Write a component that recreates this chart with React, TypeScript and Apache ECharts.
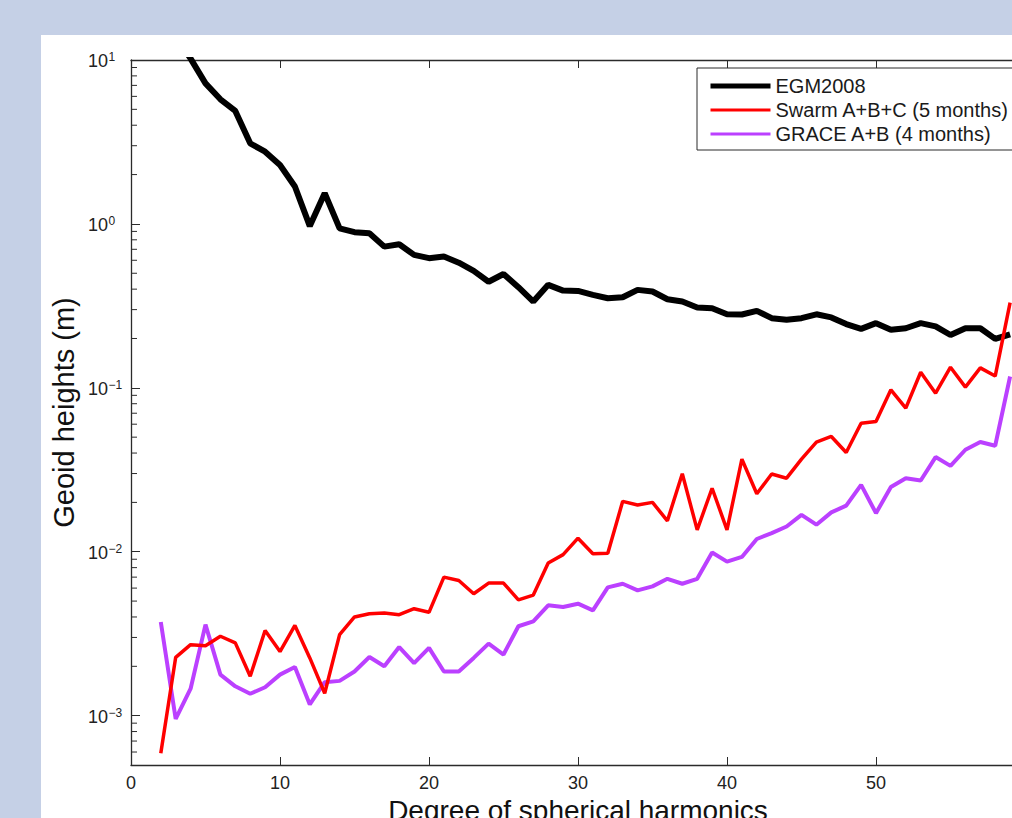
import React, { useEffect, useRef } from "react";
import * as echarts from "echarts";

const degrees = [2, 3, 4, 5, 6, 7, 8, 9, 10, 11, 12, 13, 14, 15, 16, 17, 18, 19, 20, 21, 22, 23, 24, 25, 26, 27, 28, 29, 30, 31, 32, 33, 34, 35, 36, 37, 38, 39, 40, 41, 42, 43, 44, 45, 46, 47, 48, 49, 50, 51, 52, 53, 54, 55, 56, 57, 58, 59];

const egm2008 = [20, 14, 10.2, 7.2, 5.76, 4.89, 3.1, 2.76, 2.29, 1.69, 0.97, 1.54, 0.94, 0.89, 0.877, 0.727, 0.752, 0.647, 0.618, 0.632, 0.58, 0.517, 0.444, 0.495, 0.411, 0.336, 0.425, 0.392, 0.39, 0.369, 0.352, 0.357, 0.396, 0.387, 0.347, 0.336, 0.309, 0.306, 0.281, 0.28, 0.295, 0.266, 0.26, 0.266, 0.281, 0.269, 0.245, 0.229, 0.248, 0.226, 0.231, 0.248, 0.237, 0.21, 0.231, 0.231, 0.199, 0.212];

const swarm = [0.00059, 0.00227, 0.00271, 0.00267, 0.00305, 0.00278, 0.00174, 0.00331, 0.00246, 0.00355, 0.00225, 0.00137, 0.00312, 0.004, 0.00419, 0.00423, 0.00413, 0.00449, 0.00427, 0.007, 0.00668, 0.00554, 0.00644, 0.00644, 0.00509, 0.00544, 0.00853, 0.0096, 0.0121, 0.00973, 0.0098, 0.0203, 0.0193, 0.02, 0.01545, 0.0299, 0.0136, 0.0244, 0.0136, 0.0367, 0.0226, 0.0298, 0.0281, 0.0367, 0.0467, 0.0505, 0.0403, 0.0608, 0.0623, 0.0973, 0.0752, 0.1245, 0.0927, 0.1336, 0.101, 0.1324, 0.118, 0.331];

const grace = [0.00373, 0.000955, 0.00146, 0.00359, 0.00178, 0.00151, 0.00136, 0.00149, 0.00178, 0.00198, 0.00117, 0.0016, 0.00163, 0.00186, 0.00228, 0.002, 0.00262, 0.00209, 0.00259, 0.00186, 0.00186, 0.00225, 0.00275, 0.00236, 0.00351, 0.00376, 0.00471, 0.0046, 0.00482, 0.00439, 0.00606, 0.00638, 0.00581, 0.00615, 0.00684, 0.00638, 0.00684, 0.0099, 0.0087, 0.0093, 0.01196, 0.013, 0.01426, 0.0168, 0.01462, 0.01738, 0.0191, 0.0256, 0.0172, 0.0248, 0.0281, 0.0272, 0.0378, 0.0334, 0.0419, 0.0467, 0.0443, 0.1173];

const yMajorTicks = [0.001, 0.01, 0.1, 1, 10];
const yTickExponents = ["\u22123", "\u22122", "\u22121", "0", "1"];

const yMinorTicks = [
  0.0006, 0.0007, 0.0008, 0.0009,
  0.002, 0.003, 0.004, 0.005, 0.006, 0.007, 0.008, 0.009,
  0.02, 0.03, 0.04, 0.05, 0.06, 0.07, 0.08, 0.09,
  0.2, 0.3, 0.4, 0.5, 0.6, 0.7, 0.8, 0.9,
  2, 3, 4, 5, 6, 7, 8, 9,
];

const seriesNames = ["EGM2008", "Swarm A+B+C (5 months)", "GRACE A+B (4 months)"];
const seriesColors = ["#000000", "#ff0000", "#bb40ff"];
const legendWidths = [5, 3, 3];
const xLabel = "Degree of spherical harmonics";
const yLabel = "Geoid heights (m)";

const FONT = "'Liberation Sans', Arial, Helvetica, sans-serif";
const AXIS = "#2b2b2b";
const LABEL = "#222222";

function pairs(vals: number[]) {
  return degrees.map((d, i) => [d, vals[i]]);
}

export default function App() {
  const ref = useRef<HTMLDivElement>(null);
  useEffect(() => {
    if (!ref.current) return;
    const chart = echarts.init(ref.current, undefined, { renderer: "svg" });
    chart.setOption({
      animation: false,
      textStyle: { fontFamily: FONT },
      grid: {
        left: 131,
        top: 60,
        width: 894,
        height: 705,
        containLabel: false,
        outerBoundsMode: "none",
      },
      legend: {
        orient: "vertical",
        left: 697,
        top: 68,
        padding: [8, 40, 6, 11],
        borderColor: AXIS,
        borderWidth: 1,
        borderRadius: 0,
        backgroundColor: "#ffffff",
        itemWidth: 60,
        itemHeight: 14,
        itemGap: 4,
        itemStyle: { opacity: 0 },
        data: seriesNames.map((n, i) => ({
          name: n,
          itemStyle: { opacity: 0 },
          lineStyle: { width: legendWidths[i], color: seriesColors[i] },
        })),
        textStyle: { fontSize: 20, color: "#1a1a1a", fontFamily: FONT },
      },
      xAxis: [
        {
          type: "value",
          min: 0,
          max: 60,
          interval: 10,
          position: "bottom",
          name: xLabel,
          nameLocation: "middle",
          nameGap: 28,
          nameTextStyle: { fontSize: 28, color: "#111", fontFamily: FONT },
          axisLine: { show: true, lineStyle: { color: AXIS, width: 1.3 } },
          axisTick: { show: true, inside: true, length: 8, lineStyle: { color: AXIS } },
          axisLabel: { fontSize: 18, color: LABEL, margin: 9, fontFamily: FONT, showMaxLabel: false },
          splitLine: { show: false },
        },
        {
          type: "value",
          min: 0,
          max: 60,
          interval: 10,
          position: "top",
          axisLine: { show: true, lineStyle: { color: AXIS, width: 1.3 } },
          axisTick: { show: true, inside: true, length: 8, lineStyle: { color: AXIS } },
          axisLabel: { show: false },
          splitLine: { show: false },
        },
      ],
      yAxis: {
        type: "log",
        logBase: 10,
        min: 0.0005,
        max: 10,
        position: "left",
        name: yLabel,
        nameLocation: "middle",
        nameRotate: 90,
        nameGap: 53,
        nameTextStyle: { fontSize: 29, color: "#111", fontFamily: FONT },
        axisLine: { show: true, lineStyle: { color: AXIS, width: 1.3 } },
        axisTick: { show: true, inside: true, length: 9, lineStyle: { color: AXIS } },
        splitLine: { show: false },
        minorTick: { show: false },
        axisLabel: { show: false },
      },
      series: [
        {
          name: seriesNames[0],
          type: "line",
          data: pairs(egm2008),
          symbol: "none",
          lineStyle: { color: seriesColors[0], width: 6 },
          itemStyle: { color: seriesColors[0] },
          clip: true,
          z: 3,
        },
        {
          name: seriesNames[1],
          type: "line",
          data: pairs(swarm),
          symbol: "none",
          lineStyle: { color: seriesColors[1], width: 3.5 },
          itemStyle: { color: seriesColors[1] },
          clip: true,
          z: 4,
        },
        {
          name: seriesNames[2],
          type: "line",
          data: pairs(grace),
          symbol: "none",
          lineStyle: { color: seriesColors[2], width: 4 },
          itemStyle: { color: seriesColors[2] },
          clip: true,
          z: 2,
        },
        {
          type: "custom",
          silent: true,
          data: yMinorTicks.map((v) => [0, v]),
          encode: { x: 0, y: 1 },
          z: 5,
          clip: false,
          renderItem: (params: any, api: any) => {
            const p = api.coord([0, api.value(1)]);
            return {
              type: "line",
              shape: { x1: p[0], y1: p[1], x2: p[0] + 6, y2: p[1] },
              style: { stroke: AXIS, lineWidth: 1 },
            };
          },
        },
        {
          type: "custom",
          silent: true,
          data: yMajorTicks.map((v, i) => [0, v, i]),
          encode: { x: 0, y: 1 },
          z: 5,
          clip: false,
          renderItem: (params: any, api: any) => {
            const p = api.coord([0, api.value(1)]);
            const exp = yTickExponents[api.value(2)];
            const x0 = p[0] - 43;
            return {
              type: "group",
              children: [
                {
                  type: "text",
                  x: x0,
                  y: p[1] + 1,
                  style: {
                    text: "10",
                    font: "18px 'Liberation Sans', Arial, sans-serif",
                    fontSize: 18,
                    fontFamily: FONT,
                    fill: LABEL,
                    align: "left",
                    verticalAlign: "middle",
                    textAlign: "left",
                    textVerticalAlign: "middle",
                  },
                },
                {
                  type: "text",
                  x: x0 + 20.5,
                  y: p[1] - 9,
                  style: {
                    text: exp,
                    font: "12px 'Liberation Sans', Arial, sans-serif",
                    fontSize: 12,
                    fontFamily: FONT,
                    fill: LABEL,
                    align: "left",
                    verticalAlign: "top",
                    textAlign: "left",
                    textVerticalAlign: "top",
                  },
                },
              ],
            };
          },
        },
      ],
    });
    return () => chart.dispose();
  }, []);

  return (
    <div
      style={{
        position: "fixed",
        left: 0,
        top: 0,
        width: 1012,
        height: 818,
        overflow: "hidden",
        background: "#c5d0e6",
      }}
    >
      <div
        style={{
          position: "absolute",
          left: 41,
          top: 35,
          width: 1100,
          height: 900,
          background: "#ffffff",
        }}
      />
      <div ref={ref} style={{ position: "absolute", left: 0, top: 0, width: 1100, height: 818 }} />
    </div>
  );
}
